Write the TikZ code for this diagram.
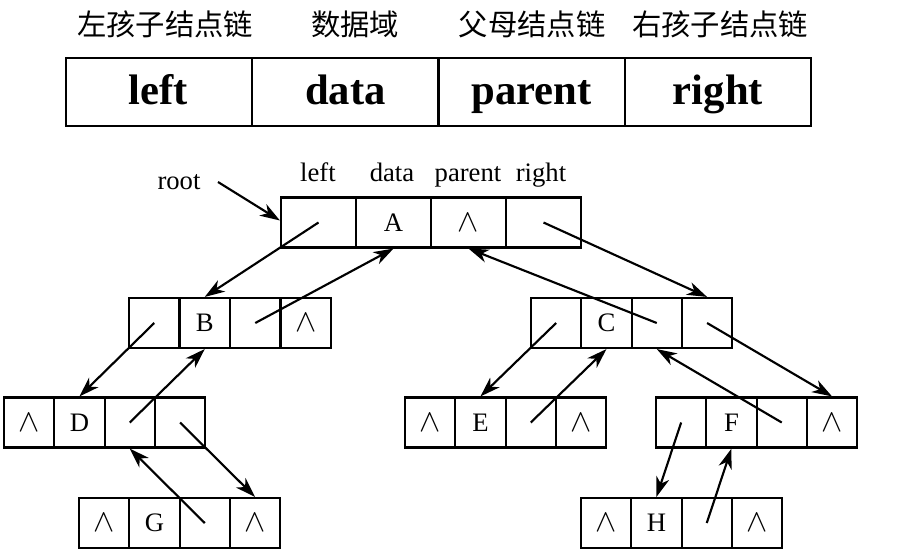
\documentclass[tikz,border=0pt]{standalone}
\usepackage{fontspec}
\usepackage{graphicx}
\setmainfont{Liberation Serif}
\newfontfamily\cjk{Noto Sans CJK SC}
\usetikzlibrary{arrows.meta}
\newcommand\nil{\scalebox{1.15}{$\wedge$}}
\tikzset{
  cell/.style={draw, line width=1.6pt, inner sep=0pt, minimum height=37.5pt,
    font=\fontsize{20}{20}\selectfont},
  bigcell/.style={draw, line width=1.6pt, inner sep=0pt, minimum height=51pt,
    minimum width=139.7pt},
  hdr/.style={inner sep=0pt, font=\cjk\fontsize{22}{22}\selectfont},
  big/.style={inner sep=0pt, anchor=base, font=\bfseries\fontsize{32}{32}\selectfont},
  lbl/.style={inner sep=0pt, anchor=base, font=\fontsize{20}{20}\selectfont},
  arr/.style={line width=1.6pt, -{Stealth[length=15pt,width=10pt,inset=4.5pt]}}
}
% name, left x, centre y, cell width (px), four cell texts
\newcommand\rec[8]{%
  \node[cell,minimum width=#4*0.75pt] (#1-1) at ({#2+#4*0.5},#3) {#5};
  \node[cell,minimum width=#4*0.75pt] (#1-2) at ({#2+#4*1.5},#3) {#6};
  \node[cell,minimum width=#4*0.75pt] (#1-3) at ({#2+#4*2.5},#3) {#7};
  \node[cell,minimum width=#4*0.75pt] (#1-4) at ({#2+#4*3.5},#3) {#8};
}
\begin{document}
\begin{tikzpicture}[x=0.75pt,y=-0.75pt]
\useasboundingbox (0,0) rectangle (924,552);
% header table
\node[hdr] (h1) at (165,24) {左孩子结点链};
\node[hdr] (h2) at (355,24) {数据域};
\node[hdr] (h3) at (532,24) {父母结点链};
\node[hdr] (h4) at (720,24) {右孩子结点链};
\node[bigcell] (T1) at (159.1,92) {};
\node[bigcell] (T2) at (345.4,92) {};
\node[bigcell] (T3) at (531.6,92) {};
\node[bigcell] (T4) at (717.9,92) {};
\node[big] (t1) at (158,105) {left};
\node[big] (t2) at (345.4,105) {data};
\node[big] (t3) at (531.6,105) {parent};
\node[big] (t4) at (717.9,105) {right};
% field labels
\node[lbl] (l1) at (318,182) {left};
\node[lbl] (l2) at (392,182) {data};
\node[lbl] (l3) at (468,182) {parent};
\node[lbl] (l4) at (541,182) {right};
\node[lbl] (root) at (179,190) {root};
\coordinate (r) at (218,182);
% records
\rec{A}{281}{222.5}{75}{}{A}{\nil}{}
\rec{B}{129}{323}{50.5}{}{B}{}{\nil}
\rec{C}{531}{323}{50.3}{}{C}{}{}
\rec{D}{4}{422.5}{50.3}{\nil}{D}{}{}
\rec{E}{405}{422.5}{50.3}{\nil}{E}{}{\nil}
\rec{F}{656}{422.5}{50.3}{}{F}{}{\nil}
\rec{G}{79}{523}{50.3}{\nil}{G}{}{\nil}
\rec{H}{581}{523}{50.3}{\nil}{H}{}{\nil}
% connectors
\draw[arr] (r) -- ([yshift=1.5pt]A-1.west);
\draw[arr] (A-1.center) -- (B-2.north);
\draw[arr] (B-3.center) -- (A-2.south);
\draw[arr] (A-4.center) -- (C-4.north);
\draw[arr] (C-3.center) -- (A-3.south);
\draw[arr] (B-1.center) -- (D-2.north);
\draw[arr] (D-3.center) -- (B-2.south);
\draw[arr] (D-4.center) -- (G-4.north);
\draw[arr] (G-3.center) -- (D-3.south);
\draw[arr] (C-1.center) -- (E-2.north);
\draw[arr] (E-3.center) -- (C-2.south);
\draw[arr] (C-4.center) -- (F-4.north);
\draw[arr] (F-3.center) -- (C-3.south);
\draw[arr] (F-1.center) -- (H-2.north);
\draw[arr] (H-3.center) -- (F-2.south);
\end{tikzpicture}
\end{document}
